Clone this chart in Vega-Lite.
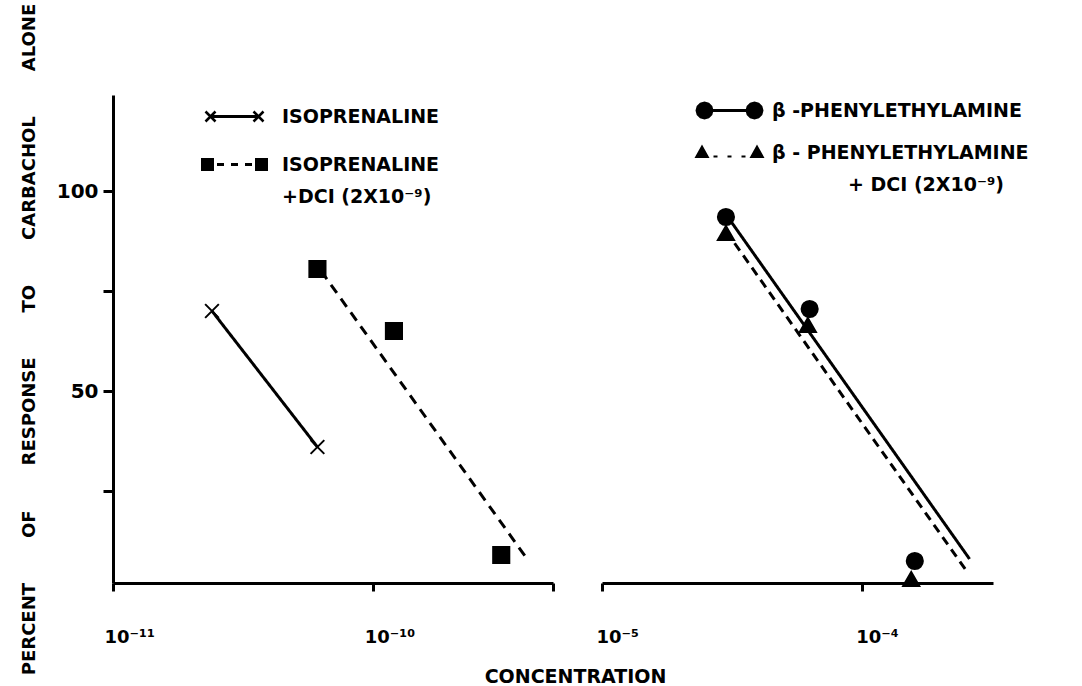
{
  "$schema": "https://vega.github.io/schema/vega-lite/v6.json",
  "background": "white",
  "padding": {"left": 20, "top": 3, "right": 5, "bottom": 0},
  "bounds": "flush",
  "config": {
    "font": "DejaVu Sans",
    "view": {"stroke": null},
    "style": {"guide-label": {"lineHeight": 32}},
    "axis": {
      "domainColor": "black", "domainWidth": 3, "tickColor": "black", "tickWidth": 3,
      "labelColor": "black", "labelFont": "DejaVu Sans", "labelFontWeight": "bold",
      "titleColor": "black", "titleFont": "DejaVu Sans", "titleFontWeight": "bold", "grid": false
    }
  },
  "datasets": {
    "pts": [
      {"panel": "L", "series": "ISO", "conc": 2.4e-11, "pct": 70},
      {"panel": "L", "series": "ISO", "conc": 6.1e-11, "pct": 36},
      {"panel": "L", "series": "ISODCI", "conc": 6.1e-11, "pct": 80.5},
      {"panel": "L", "series": "ISODCI", "conc": 1.2e-10, "pct": 65},
      {"panel": "L", "series": "ISODCI", "conc": 3.1e-10, "pct": 9},
      {"panel": "R", "series": "PEA", "conc": 3.0e-5, "pct": 93.5},
      {"panel": "R", "series": "PEA", "conc": 6.3e-5, "pct": 70.5},
      {"panel": "R", "series": "PEA", "conc": 1.6e-4, "pct": 7.5},
      {"panel": "R", "series": "PEADCI", "conc": 3.0e-5, "pct": 89.5},
      {"panel": "R", "series": "PEADCI", "conc": 6.2e-5, "pct": 66.5},
      {"panel": "R", "series": "PEADCI", "conc": 1.55e-4, "pct": 3}
    ],
    "fits": [
      {"panel": "L", "fit": "ISO fit", "conc": 2.4e-11, "pct": 70},
      {"panel": "L", "fit": "ISO fit", "conc": 6.1e-11, "pct": 36},
      {"panel": "L", "fit": "ISODCI fit", "conc": 6.3e-11, "pct": 80},
      {"panel": "L", "fit": "ISODCI fit", "conc": 3.85e-10, "pct": 8.5},
      {"panel": "R", "fit": "PEA fit", "conc": 3.05e-5, "pct": 93.5},
      {"panel": "R", "fit": "PEA fit", "conc": 2.6e-4, "pct": 8},
      {"panel": "R", "fit": "PEADCI fit", "conc": 3.0e-5, "pct": 90},
      {"panel": "R", "fit": "PEADCI fit", "conc": 2.5e-4, "pct": 5.5}
    ]
  },
  "spacing": 49,
  "resolve": {"scale": {"shape": "independent", "strokeDash": "independent", "x": "independent"}, "legend": {"shape": "independent"}},
  "hconcat": [
    {
      "width": 440,
      "height": 488,
      "encoding": {
        "x": {"field": "conc", "type": "quantitative",
          "scale": {"type": "log", "domain": [1e-11, 4.9e-10], "nice": false},
          "axis": {"values": [1e-11, 1e-10, 4.9e-10], "tickSize": 8, "labelFontSize": 18, "labelPadding": 37, "labelAlign": "left", "labelOffset": -9, "labelFlush": false, "labelOverlap": false,
            "labelExpr": "datum.value < 5e-11 ? '10⁻¹¹' : (datum.value < 2e-10 ? '10⁻¹⁰' : '')",
            "title": "CONCENTRATION", "titleFontSize": 19, "titleX": 462, "titleY": 93, "titleAlign": "center", "titleBaseline": "middle"}},
        "y": {"field": "pct", "type": "quantitative",
          "scale": {"domain": [2, 124], "nice": false, "zero": false},
          "axis": {"values": [25, 50, 75, 100], "tickSize": 10, "labelFontSize": 20, "labelPadding": 5, "labelOverlap": false,
            "labelExpr": "(datum.value === 50 || datum.value === 100) ? datum.label : ''",
            "title": "PERCENT\u2003\u2003\u2002OF\u2003\u2003\u2002RESPONSE\u2003\u2003\u2002TO\u2003\u2003\u2002CARBACHOL\u2003\u2003\u2002ALONE", "titleFontSize": 18, "titlePadding": 18}}
      },
      "layer": [
        {
          "data": {"name": "fits"},
          "transform": [{"filter": "datum.panel === 'L'"}],
          "mark": {"type": "line", "color": "black", "strokeWidth": 3},
          "encoding": {
            "detail": {"field": "fit"},
            "strokeDash": {"field": "fit", "type": "nominal", "scale": {"domain": ["ISO fit", "ISODCI fit"], "range": [[1, 0], [10, 7]]}, "legend": null}
          }
        },
        {
          "data": {"name": "pts"},
          "transform": [{"filter": "datum.panel === 'L'"}],
          "mark": {"type": "point", "filled": true, "color": "black", "stroke": "black", "strokeWidth": 2.5, "size": 100, "opacity": 0},
          "encoding": {
            "shape": {"field": "series", "type": "nominal",
              "scale": {"domain": ["ISO", "ISODCI"], "range": [
                "M-5.62,-1.18L-3.62,0.82L-3.98,1.18L-5.98,-0.82ZM-5.62,1.18L-5.98,0.82L-3.98,-1.18L-3.62,-0.82ZM-4.8,-0.3L4.8,-0.3L4.8,0.3L-4.8,0.3ZM3.98,-1.18L5.98,0.82L5.62,1.18L3.62,-0.82ZM3.98,1.18L3.62,0.82L5.62,-1.18L5.98,-0.82Z",
                "M-6.7,-1.3L-4.1,-1.3L-4.1,1.3L-6.7,1.3ZM4.1,-1.3L6.7,-1.3L6.7,1.3L4.1,1.3ZM-3.5,-0.3L-2.1,-0.3L-2.1,0.3L-3.5,0.3ZM-0.7,-0.3L0.7,-0.3L0.7,0.3L-0.7,0.3ZM2.1,-0.3L3.5,-0.3L3.5,0.3L2.1,0.3Z"]},
              "legend": {"orient": "none", "legendX": 112, "legendY": 12, "title": null, "padding": 0, "symbolSize": 100,
                "symbolOpacity": 1, "symbolFillColor": "black", "symbolStrokeColor": "black", "symbolStrokeWidth": 1,
                "labelFontSize": 19, "labelFontWeight": "bold", "labelFont": "DejaVu Sans", "labelColor": "black", "labelOffset": 38, "labelLimit": 0, "rowPadding": 28,
                "labelExpr": "datum.value === 'ISO' ? 'ISOPRENALINE' : ['ISOPRENALINE', '+DCI (2X10⁻⁹)']"}}
          }
        },
        {
          "data": {"name": "pts"},
          "transform": [{"filter": "datum.series === 'ISO'"}],
          "mark": {"type": "point", "shape": "M-0.85,-0.85L0.85,0.85M-0.85,0.85L0.85,-0.85", "filled": true, "color": "black", "stroke": "black", "strokeWidth": 2, "size": 260, "opacity": 1}
        },
        {
          "data": {"name": "pts"},
          "transform": [{"filter": "datum.series === 'ISODCI'"}],
          "mark": {"type": "point", "shape": "square", "filled": true, "color": "black", "stroke": "black", "strokeWidth": 2, "size": 260, "opacity": 1}
        }
      ]
    },
    {
      "width": 391,
      "height": 488,
      "encoding": {
        "x": {"field": "conc", "type": "quantitative",
          "scale": {"type": "log", "domain": [1e-5, 3.2e-4], "nice": false},
          "axis": {"values": [1e-5, 1e-4], "title": null, "tickSize": 8, "labelFontSize": 18, "labelPadding": 37, "labelAlign": "left", "labelOffset": -6, "labelFlush": false, "labelOverlap": false,
            "labelExpr": "datum.value < 5e-5 ? '10⁻⁵' : '10⁻⁴'"}},
        "y": {"field": "pct", "type": "quantitative",
          "scale": {"domain": [2, 124], "nice": false, "zero": false},
          "axis": null}
      },
      "layer": [
        {
          "data": {"name": "fits"},
          "transform": [{"filter": "datum.panel === 'R'"}],
          "mark": {"type": "line", "color": "black", "strokeWidth": 3},
          "encoding": {
            "detail": {"field": "fit"},
            "strokeDash": {"field": "fit", "type": "nominal", "scale": {"domain": ["PEA fit", "PEADCI fit"], "range": [[1, 0], [9, 6]]}, "legend": null}
          }
        },
        {
          "data": {"name": "pts"},
          "transform": [{"filter": "datum.panel === 'R'"}],
          "mark": {"type": "point", "filled": true, "color": "black", "stroke": "black", "strokeWidth": 2.5, "size": 100, "opacity": 0},
          "encoding": {
            "shape": {"field": "series", "type": "nominal",
              "scale": {"domain": ["PEA", "PEADCI"], "range": [
                "M-3.2,0L-3.441,0.9L-4.1,1.559L-5,1.8L-5.9,1.559L-6.559,0.9L-6.8,0L-6.559,-0.9L-5.9,-1.559L-5,-1.8L-4.1,-1.559L-3.441,-0.9ZM6.8,0L6.559,0.9L5.9,1.559L5,1.8L4.1,1.559L3.441,0.9L3.2,0L3.441,-0.9L4.1,-1.559L5,-1.8L5.9,-1.559L6.559,-0.9ZM-3.4,-0.3L3.4,-0.3L3.4,0.3L-3.4,0.3Z",
                "M-5.5,-1.6L-4,1.1L-7,1.1ZM5.5,-1.6L7,1.1L4,1.1ZM-3.2,0.6L-2.4,0.6L-2.4,1.0L-3.2,1.0ZM-0.4,0.6L0.4,0.6L0.4,1.0L-0.4,1.0ZM2.4,0.6L3.2,0.6L3.2,1.0L2.4,1.0Z"]},
              "legend": {"orient": "none", "legendX": 118, "legendY": 6, "title": null, "padding": 0, "symbolSize": 100,
                "symbolOpacity": 1, "symbolFillColor": "black", "symbolStrokeColor": "black", "symbolStrokeWidth": 1,
                "labelFontSize": 19, "labelFontWeight": "bold", "labelFont": "DejaVu Sans", "labelColor": "black", "labelOffset": 33, "labelLimit": 0, "rowPadding": 20,
                "labelExpr": "datum.value === 'PEA' ? 'β -PHENYLETHYLAMINE' : ['β - PHENYLETHYLAMINE', '\u200b\u2003\u2003\u2003\u2003+ DCI (2X10⁻⁹)']"}}
          }
        },
        {
          "data": {"name": "pts"},
          "transform": [{"filter": "datum.series === 'PEA'"}],
          "mark": {"type": "point", "shape": "circle", "filled": true, "color": "black", "stroke": "black", "strokeWidth": 2, "size": 260, "opacity": 1}
        },
        {
          "data": {"name": "pts"},
          "transform": [{"filter": "datum.series === 'PEADCI'"}],
          "mark": {"type": "point", "shape": "triangle-up", "filled": true, "color": "black", "stroke": "black", "strokeWidth": 2, "size": 260, "opacity": 1}
        }
      ]
    }
  ]
}
